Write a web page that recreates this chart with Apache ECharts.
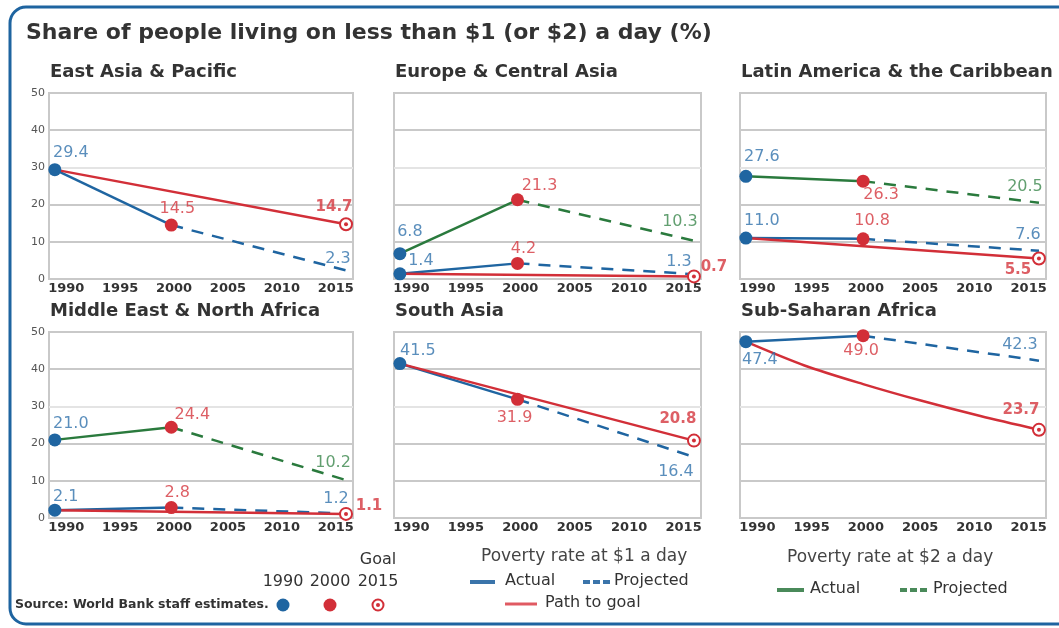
<!DOCTYPE html>
<html><head><meta charset="utf-8">
<script src="https://cdn.jsdelivr.net/npm/echarts@6/dist/echarts.min.js"></script>
<style>html,body{margin:0;padding:0;background:#fff}#c{width:1059px;height:628px}</style>
</head><body><div id="c"></div>
<script>
// ---------- data ----------
const regions = ['East Asia & Pacific', 'Europe & Central Asia', 'Latin America & the Caribbean',
                 'Middle East & North Africa', 'South Asia', 'Sub-Saharan Africa'];
const years = [1990, 2000, 2015];              // 1990 actual, 2000 actual, 2015 projected
const rate1 = [[29.4, 14.5, 2.3], [1.4, 4.2, 1.3], [11.0, 10.8, 7.6],
               [2.1, 2.8, 1.2], [41.5, 31.9, 16.4], [47.4, 49.0, 42.3]];   // $1 a day
const goal1 = [14.7, 0.7, 5.5, 1.1, 20.8, 23.7];                         // 2015 goal
const rate2 = [null, [6.8, 21.3, 10.3], [27.6, 26.3, 20.5], [21.0, 24.4, 10.2], null, null]; // $2 a day
const pathYears = [1990, 1995, 2000, 2005, 2010, 2015];
const pathSSA = [47.4, 41.0, 36.0, 31.5, 27.4, 23.7];
const pathCurves = {5: pathSSA};
const xTickYears = [1990, 1995, 2000, 2005, 2010, 2015];

// ---------- styling ----------
const FONT = 'DejaVu Sans';
const BLUE = '#1f65a1', RED = '#d22f38', GREEN = '#2a7a3d';
const BLUE_T = '#3172ab', RED_T = '#d4373f', GREEN_T = '#3b874c';
const grids = [
  {left: 49, top: 93, width: 304, height: 186},
  {left: 394, top: 93, width: 307, height: 186},
  {left: 740, top: 93, width: 306, height: 186},
  {left: 49, top: 332, width: 304, height: 186},
  {left: 394, top: 332, width: 307, height: 186},
  {left: 740, top: 332, width: 306, height: 186}
];
// label offsets (px) relative to the point: [dx, dy]
const labelPlace = [
  {r1: [[16, -17], [6, -16], [-8, -12]], goal: [-12, -17]},
  {r1: [[21, -13], [6, -15], [-15, -12]], r2: [[10, -22], [22, -14], [-14, -19]], goal: [20, -9]},
  {r1: [[16, -17], [9, -18], [-11, -16]], r2: [[16, -19], [18, 14], [-14, -16]], goal: [-21, 12]},
  {r1: [[11, -13], [6, -15], [-10, -15]], r2: [[16, -16], [21, -12], [-13, -17]], goal: [23, -8]},
  {r1: [[18, -13], [-3, 19], [-18, 15]], goal: [-16, -22]},
  {r1: [[14, 18], [-2, 15], [-19, -16]], goal: [-18, -20]}
];

const xAxis = [], yAxis = [], series = [];
const title = [{
  text: 'Share of people living on less than $1 (or $2) a day (%)', left: 26, top: 22, padding: 0,
  textStyle: {fontFamily: FONT, fontSize: 22, fontWeight: 'bold', color: '#333'}
}];
const splitColors = ['#c9c9c9', '#c9c9c9', '#c9c9c9', '#e4e4e4', '#c9c9c9', '#c9c9c9'];

function lineSeries(p, data, color, dashed, z) {
  return {
    type: 'line', xAxisIndex: 2 * p, yAxisIndex: p, data: data, symbol: 'none', silent: true,
    smooth: data.length > 2 ? 0.3 : false, z: z,
    lineStyle: {color: color, width: 2.5, type: dashed ? [12, 9] : 'solid'}
  };
}
function lbl(text, off, color, bold) {
  return {show: true, position: 'inside', offset: off, formatter: text, color: color,
          fontFamily: FONT, fontSize: bold ? 15 : 16, fontWeight: bold ? 'bold' : 'normal'};
}

regions.forEach((name, p) => {
  const g = grids[p];
  title.push({text: name, left: g.left + 1, top: g.top - 30, padding: 0,
    textStyle: {fontFamily: FONT, fontSize: 18, fontWeight: 'bold', color: '#333'}});
  xAxis.push({gridIndex: p, type: 'value', min: 1989.5, max: 2015.6, show: false});
  xAxis.push({gridIndex: p, type: 'value', min: 1988.4, max: 2016.6, position: 'bottom',
    axisLine: {show: false}, axisTick: {show: false}, splitLine: {show: false},
    axisLabel: {customValues: xTickYears, formatter: v => String(Math.round(v)), margin: 3,
                fontFamily: FONT, fontSize: 13, fontWeight: 'bold', color: '#333'}});
  yAxis.push({gridIndex: p, type: 'value', min: 0, max: 50, interval: 10,
    axisLine: {show: false}, axisTick: {show: false},
    axisLabel: {show: p % 3 === 0, fontFamily: FONT, fontSize: 11, color: '#555', margin: 4},
    splitLine: {show: true, lineStyle: {color: splitColors, width: 2}}});

  const r1 = rate1[p], r2 = rate2[p], goal = goal1[p];
  // $2 a day lines
  if (r2) {
    series.push(lineSeries(p, [[years[0], r2[0]], [years[1], r2[1]]], GREEN, false, 2));
    series.push(lineSeries(p, [[years[1], r2[1]], [years[2], r2[2]]], GREEN, true, 2));
  }
  // $1 a day lines
  series.push(lineSeries(p, [[years[0], r1[0]], [years[1], r1[1]]], BLUE, false, 3));
  series.push(lineSeries(p, [[years[1], r1[1]], [years[2], r1[2]]], BLUE, true, 3));
  const path = pathCurves[p] ? pathYears.map((y, i) => [y, pathCurves[p][i]])
                             : [[years[0], r1[0]], [years[2], goal]];
  series.push(lineSeries(p, path, RED, false, 3));

  // markers
  const blueDots = [[years[0], r1[0]]], redDots = [[years[1], r1[1]]];
  if (r2) { blueDots.push([years[0], r2[0]]); redDots.push([years[1], r2[1]]); }
  series.push({type: 'scatter', xAxisIndex: 2 * p, yAxisIndex: p, data: blueDots, symbolSize: 13,
    itemStyle: {color: BLUE, opacity: 1}, silent: true, z: 5});
  series.push({type: 'scatter', xAxisIndex: 2 * p, yAxisIndex: p, data: redDots, symbolSize: 13,
    itemStyle: {color: RED, opacity: 1}, silent: true, z: 5});
  series.push({type: 'scatter', xAxisIndex: 2 * p, yAxisIndex: p, data: [[years[2], goal]], symbolSize: 12,
    itemStyle: {color: '#fff', borderColor: RED, borderWidth: 2, opacity: 1}, silent: true, z: 5});
  series.push({type: 'scatter', xAxisIndex: 2 * p, yAxisIndex: p, data: [[years[2], goal]], symbolSize: 4,
    itemStyle: {color: RED, opacity: 1}, silent: true, z: 6});

  // value labels
  const pl = labelPlace[p];
  const items = [];
  const c1 = [BLUE_T, RED_T, BLUE_T];
  r1.forEach((v, i) => items.push({value: [years[i], v], label: lbl(v.toFixed(1), pl.r1[i], c1[i], false)}));
  if (r2) {
    const c2 = [BLUE_T, RED_T, GREEN_T];
    r2.forEach((v, i) => items.push({value: [years[i], v], label: lbl(v.toFixed(1), pl.r2[i], c2[i], false)}));
  }
  items.push({value: [years[2], goal], label: lbl(goal.toFixed(1), pl.goal, RED_T, true)});
  series.push({type: 'scatter', xAxisIndex: 2 * p, yAxisIndex: p, data: items, symbolSize: 1,
    itemStyle: {color: 'rgba(0,0,0,0)'}, silent: true, z: 7});
});

function txt(x, y, text, size, weight, color) {
  return {type: 'text', style: {x: x, y: y, text: text, fill: color,
    font: (weight || 'normal') + ' ' + size + 'px "DejaVu Sans"',
    textAlign: 'left', align: 'left', textVerticalAlign: 'middle', verticalAlign: 'middle'}};
}
function ctxt(x, y, text, size, color) {
  const t = txt(x, y, text, size, 'normal', color);
  t.style.textAlign = 'center'; t.style.align = 'center';
  return t;
}
const graphic = [
  {type: 'rect', shape: {x: 10, y: 7, width: 1070, height: 617, r: 16},
   style: {fill: 'none', stroke: '#1e64a0', lineWidth: 3}, z: -10},
  txt(15, 605, 'Source: World Bank staff estimates.', 12.5, 'bold', '#333'),
  ctxt(378, 560, 'Goal', 16, '#333'),
  ctxt(283, 582, '1990', 16, '#333'),
  ctxt(330, 582, '2000', 16, '#333'),
  ctxt(378, 582, '2015', 16, '#333'),
  {type: 'circle', shape: {cx: 283, cy: 605, r: 6.5}, style: {fill: BLUE}},
  {type: 'circle', shape: {cx: 330, cy: 605, r: 6.5}, style: {fill: RED}},
  {type: 'circle', shape: {cx: 378, cy: 605, r: 5.5}, style: {fill: '#fff', stroke: RED, lineWidth: 2}},
  {type: 'circle', shape: {cx: 378, cy: 605, r: 2}, style: {fill: RED}},
  txt(481, 557, 'Poverty rate at $1 a day', 17, 'normal', '#444'),
  {type: 'line', shape: {x1: 470, y1: 582, x2: 495, y2: 582}, style: {stroke: '#3a74aa', lineWidth: 4}},
  txt(505, 581, 'Actual', 16, 'normal', '#333'),
  {type: 'line', shape: {x1: 583, y1: 582, x2: 610, y2: 582}, style: {stroke: '#3a74aa', lineWidth: 4, lineDash: [7, 3]}},
  txt(614, 581, 'Projected', 16, 'normal', '#333'),
  {type: 'line', shape: {x1: 505, y1: 604, x2: 537, y2: 604}, style: {stroke: '#e05a62', lineWidth: 3}},
  txt(545, 603, 'Path to goal', 16, 'normal', '#333'),
  txt(787, 558, 'Poverty rate at $2 a day', 17, 'normal', '#444'),
  {type: 'line', shape: {x1: 777, y1: 590, x2: 804, y2: 590}, style: {stroke: '#4a8a5a', lineWidth: 4}},
  txt(810, 589, 'Actual', 16, 'normal', '#333'),
  {type: 'line', shape: {x1: 900, y1: 590, x2: 927, y2: 590}, style: {stroke: '#4a8a5a', lineWidth: 4, lineDash: [7, 3]}},
  txt(933, 589, 'Projected', 16, 'normal', '#333')
];

const chart = echarts.init(document.getElementById('c'), null, {renderer: 'canvas'});
chart.setOption({
  animation: false,
  backgroundColor: '#fff',
  title: title,
  grid: grids.map(g => Object.assign({show: true, borderColor: '#c9c9c9', borderWidth: 2,
                                       backgroundColor: '#fff', containLabel: false}, g)),
  xAxis: xAxis, yAxis: yAxis, series: series, graphic: graphic
});
</script></body></html>
